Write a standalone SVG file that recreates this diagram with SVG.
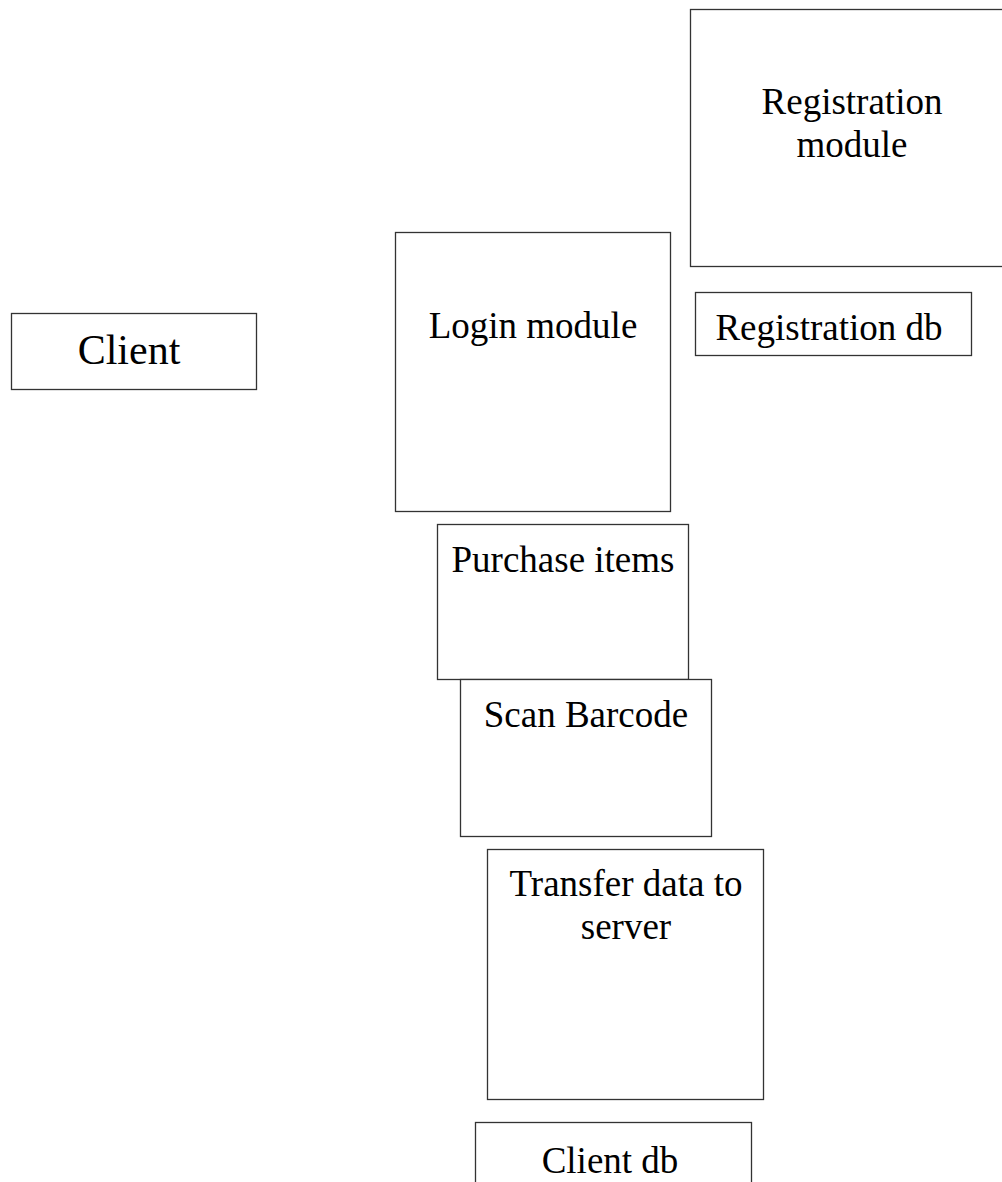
<svg xmlns="http://www.w3.org/2000/svg" width="1002" height="1182" viewBox="0 0 1002 1182">
<style>
.box{fill:#fff;stroke:#333;stroke-width:1.3}
.t{font-family:"Liberation Serif","Times New Roman",serif;font-size:37px;fill:#000;text-anchor:middle}
</style>
<rect width="1002" height="1182" fill="#fff"/>
<g id="connectors"></g>
<g id="registration-module"><rect class="box" x="690.5" y="9.5" width="330" height="257"/><text class="t" x="852" y="114">Registration</text><text class="t" x="852" y="157">module</text></g>
<g id="client"><rect class="box" x="11.5" y="313.5" width="245" height="76"/><text class="t" x="129" y="364" style="font-size:42px">Client</text></g>
<g id="login-module"><rect class="box" x="395.5" y="232.5" width="275" height="279"/><text class="t" x="533" y="338">Login module</text></g>
<g id="registration-db"><rect class="box" x="695.5" y="292.5" width="276" height="63"/><text class="t" x="829" y="340">Registration db</text></g>
<g id="purchase-items"><rect class="box" x="437.5" y="524.5" width="251" height="155"/><text class="t" x="563" y="572">Purchase items</text></g>
<g id="scan-barcode"><rect class="box" x="460.5" y="679.5" width="251" height="157"/><text class="t" x="586" y="727">Scan Barcode</text></g>
<g id="transfer-data"><rect class="box" x="487.5" y="849.5" width="276" height="250"/><text class="t" x="626" y="896">Transfer data to</text><text class="t" x="626" y="939">server</text></g>
<g id="client-db"><rect class="box" x="475.5" y="1122.5" width="276" height="80"/><text class="t" x="610" y="1173">Client db</text></g>
</svg>
